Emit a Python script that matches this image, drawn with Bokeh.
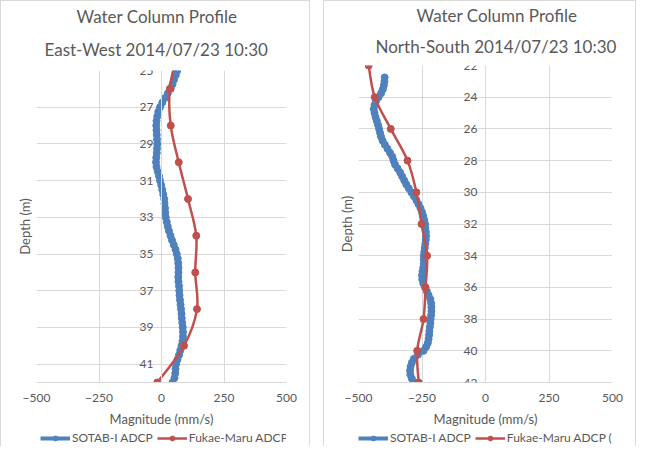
from bokeh.plotting import figure
from bokeh.models import (Range1d, FixedTicker, LinearAxis, Legend, LegendItem, Title,
                          ColumnDataSource)
from bokeh.layouts import row, column
from bokeh.embed import file_html
from bokeh.resources import INLINE

FONT = "Lato"
TXT = "#595959"
GRID = "#D9D9D9"
BLUE = "#4F81BD"
RED = "#C0504D"
BOX = "1px solid #D9D9D9"

# ---------------- data ----------------
title_main = "Water Column Profile"
title_ew = "East-West 2014/07/23 10:30"
title_ns = "North-South 2014/07/23 10:30"
x_label = "Magnitude (mm/s)"
y_label = "Depth (m)"
series_names = ["SOTAB-I ADCP", "Fukae-Maru ADCP (10:30)"]
x_ticks = [-500, -250, 0, 250, 500]
ew_y_ticks = [25, 27, 29, 31, 33, 35, 37, 39, 41]
ns_y_ticks = [22, 24, 26, 28, 30, 32, 34, 36, 38, 40, 42]

ew_sotab_depth = [25.0, 25.25, 25.5, 25.75, 26.0, 26.25, 26.5, 26.75, 27.0, 27.25,
                  27.5, 27.75, 28.0, 28.25, 28.5, 28.75, 29.0, 29.25, 29.5, 29.75,
                  30.0, 30.25, 30.5, 30.75, 31.0, 31.25, 31.5, 31.75, 32.0, 32.25,
                  32.5, 32.75, 33.0, 33.25, 33.5, 33.75, 34.0, 34.25, 34.5, 34.75,
                  35.0, 35.25, 35.5, 35.75, 36.0, 36.25, 36.5, 36.75, 37.0, 37.25,
                  37.5, 37.75, 38.0, 38.25, 38.5, 38.75, 39.0, 39.25, 39.5, 39.75,
                  40.0, 40.25, 40.5, 40.75, 41.0, 41.25, 41.5, 41.75, 42.0]
ew_sotab_mag = [63, 57, 50, 44, 37, 25, 14, 3, -6, -13,
                -17, -20, -21, -20, -19, -18, -17, -18, -19, -21,
                -22, -20, -15, -10, -6, -1, 3, 7, 11, 12,
                14, 15, 17, 21, 25, 30, 36, 42, 49, 56,
                61, 65, 67, 68, 68, 67, 68, 70, 71, 72,
                74, 76, 78, 80, 81, 83, 85, 86, 86, 84,
                80, 75, 70, 64, 58, 56, 55, 52, 44]
ew_fukae_depth = [24, 26, 28, 30, 32, 34, 36, 38, 40, 42]
ew_fukae_mag = [65, 33, 37, 69, 106, 139, 135, 142, 90, -17]

ns_sotab_depth = [22.75, 23.0, 23.25, 23.5, 23.75, 24.0, 24.25, 24.5, 24.75, 25.0,
                  25.25, 25.5, 25.75, 26.0, 26.25, 26.5, 26.75, 27.0, 27.25, 27.5,
                  27.75, 28.0, 28.25, 28.5, 28.75, 29.0, 29.25, 29.5, 29.75, 30.0,
                  30.25, 30.5, 30.75, 31.0, 31.25, 31.5, 31.75, 32.0, 32.25, 32.5,
                  32.75, 33.0, 33.25, 33.5, 33.75, 34.0, 34.25, 34.5, 34.75, 35.0,
                  35.25, 35.5, 35.75, 36.0, 36.25, 36.5, 36.75, 37.0, 37.25, 37.5,
                  37.75, 38.0, 38.25, 38.5, 38.75, 39.0, 39.25, 39.5, 39.75, 40.0,
                  40.25, 40.5, 40.75, 41.0, 41.25, 41.5, 41.75, 42.0]
ns_sotab_mag = [-397, -398, -400, -404, -411, -421, -431, -437, -440, -437,
                -433, -428, -423, -419, -415, -411, -405, -396, -386, -376,
                -367, -362, -356, -346, -336, -328, -320, -312, -302, -292,
                -282, -272, -264, -256, -250, -245, -241, -238, -237, -235,
                -234, -235, -237, -239, -241, -243, -243, -243, -245, -248,
                -250, -249, -245, -238, -231, -224, -217, -214, -213, -213,
                -214, -216, -217, -219, -221, -222, -224, -227, -234, -244,
                -266, -282, -290, -295, -297, -296, -290, -280]
ns_fukae_depth = [22, 24, 26, 28, 30, 32, 34, 36, 38, 40, 42]
ns_fukae_mag = [-460, -436, -373, -307, -272, -252, -230, -236, -244, -269, -263]


def smooth(xs, ys):
    """Bezier control points for a smoothed line through the given points."""
    n = len(xs)
    out = dict(x0=[], y0=[], x1=[], y1=[], cx0=[], cy0=[], cx1=[], cy1=[])
    for i in range(n - 1):
        a = max(i - 1, 0)
        b = min(i + 2, n - 1)
        out["x0"].append(xs[i]); out["y0"].append(ys[i])
        out["x1"].append(xs[i + 1]); out["y1"].append(ys[i + 1])
        out["cx0"].append(xs[i] + (xs[i + 1] - xs[a]) / 6)
        out["cy0"].append(ys[i] + (ys[i + 1] - ys[a]) / 6)
        out["cx1"].append(xs[i + 1] - (xs[b] - xs[i]) / 6)
        out["cy1"].append(ys[i + 1] - (ys[b] - ys[i]) / 6)
    return out


def panel(sub, s_depth, s_mag, f_depth, f_mag, y_lo, y_hi, y_ticks, w,
          bl, br, bt, bb, st2, t1_off, t2_off, leg_x):
    p = figure(width=w, height=428, output_backend="svg", toolbar_location=None,
               x_range=Range1d(-500, 500), y_range=Range1d(y_hi, y_lo),
               min_border_left=bl, min_border_right=br,
               min_border_top=bt, min_border_bottom=bb,
               background_fill_color="white", border_fill_color="white",
               outline_line_color=None)
    p.styles = {"border-left": BOX, "border-right": BOX, "border-top": BOX}

    t2 = Title(text=sub, align="left", offset=t2_off, text_font=FONT,
               text_font_size="17px", text_font_style="normal", text_color=TXT,
               standoff=st2)
    t1 = Title(text=title_main, align="left", offset=t1_off, text_font=FONT,
               text_font_size="17px", text_font_style="normal", text_color=TXT,
               standoff=0)
    p.add_layout(t2, "above")
    p.add_layout(t1, "above")

    # x axis
    xa = p.xaxis[0]
    xa.ticker = FixedTicker(ticks=x_ticks)
    xa.axis_line_color = GRID
    xa.major_tick_line_color = None
    xa.minor_tick_line_color = None
    xa.major_tick_out = 0
    xa.major_label_standoff = 11
    xa.major_label_text_font = FONT
    xa.major_label_text_font_size = "12px"
    xa.major_label_text_color = TXT
    xa.axis_label = x_label
    xa.axis_label_standoff = 6
    xa.axis_label_text_font = FONT
    xa.axis_label_text_font_size = "13px"
    xa.axis_label_text_font_style = "normal"
    xa.axis_label_text_color = TXT

    # left axis: only carries the axis title
    ya = p.yaxis[0]
    ya.ticker = FixedTicker(ticks=y_ticks)
    ya.major_label_overrides = {t: "" for t in y_ticks}
    ya.axis_line_color = None
    ya.major_tick_line_color = None
    ya.minor_tick_line_color = None
    ya.major_tick_out = 0
    ya.major_label_standoff = 0
    ya.axis_label = y_label
    ya.axis_label_standoff = 4
    ya.axis_label_text_font = FONT
    ya.axis_label_text_font_size = "13px"
    ya.axis_label_text_font_style = "normal"
    ya.axis_label_text_color = TXT

    # depth axis crossing at magnitude 0
    y0 = LinearAxis(ticker=FixedTicker(ticks=y_ticks), fixed_location=0,
                    axis_line_color=GRID, major_tick_line_color=None,
                    minor_tick_line_color=None, major_tick_out=0,
                    major_label_standoff=8, major_label_text_font=FONT,
                    major_label_text_font_size="12px", major_label_text_color=TXT)
    p.add_layout(y0, "left")

    p.xgrid.ticker = FixedTicker(ticks=x_ticks)
    p.xgrid.grid_line_color = GRID
    p.ygrid.ticker = FixedTicker(ticks=y_ticks)
    p.ygrid.grid_line_color = GRID

    p.line(s_mag, s_depth, line_color=BLUE, line_width=4)
    p.scatter(s_mag, s_depth, marker="circle", size=7, fill_color=BLUE, line_color=BLUE)
    p.bezier(x0="x0", y0="y0", x1="x1", y1="y1", cx0="cx0", cy0="cy0",
             cx1="cx1", cy1="cy1", source=ColumnDataSource(smooth(f_mag, f_depth)),
             line_color=RED, line_width=2.5)
    p.scatter(f_mag, f_depth, marker="circle", size=7, fill_color=RED, line_color=RED)

    # legend strip below the chart (same series, ranges chosen so only the key shows)
    lf = figure(width=w, height=18, output_backend="svg", toolbar_location=None,
                x_axis_location=None, y_axis_location=None, min_border=0,
                min_border_left=0, min_border_right=0, min_border_top=0,
                min_border_bottom=0,
                x_range=Range1d(0, 1), y_range=Range1d(0, 1),
                background_fill_color="white", border_fill_color="white",
                outline_line_color=None)
    lf.styles = {"border-left": BOX, "border-right": BOX}
    lf.grid.visible = False
    kb_line = lf.line(s_mag, s_depth, line_color=BLUE, line_width=4)
    kb_pts = lf.scatter(s_mag, s_depth, marker="circle", size=7, fill_color=BLUE,
                        line_color=BLUE)
    kr_line = lf.line(f_mag, f_depth, line_color=RED, line_width=2.5)
    kr_pts = lf.scatter(f_mag, f_depth, marker="circle", size=7, fill_color=RED,
                        line_color=RED)
    legend = Legend(items=[LegendItem(label=series_names[0], renderers=[kb_line, kb_pts]),
                           LegendItem(label=series_names[1], renderers=[kr_line, kr_pts])],
                    orientation="horizontal", location=(leg_x, 1),
                    border_line_color=None, background_fill_alpha=0,
                    margin=0, padding=2, spacing=4, glyph_width=30, glyph_height=12,
                    label_standoff=2, label_text_font=FONT, label_text_font_size="12px",
                    label_text_color=TXT, label_height=12)
    lf.add_layout(legend)
    return column(p, lf)


c1 = panel(title_ew, ew_sotab_depth, ew_sotab_mag, ew_fukae_depth, ew_fukae_mag,
           25, 42, ew_y_ticks, 310, 35, 25, 69, 45, 21, 40, 8, 4)
c2 = panel(title_ns, ns_sotab_depth, ns_sotab_mag, ns_fukae_depth, ns_fukae_mag,
           22, 42, ns_y_ticks, 313, 34, 25, 64, 45, 17, 58, 17, 0)

layout = row(c1, c2, spacing=13)
open("out.html", "w").write(file_html(layout, INLINE))
